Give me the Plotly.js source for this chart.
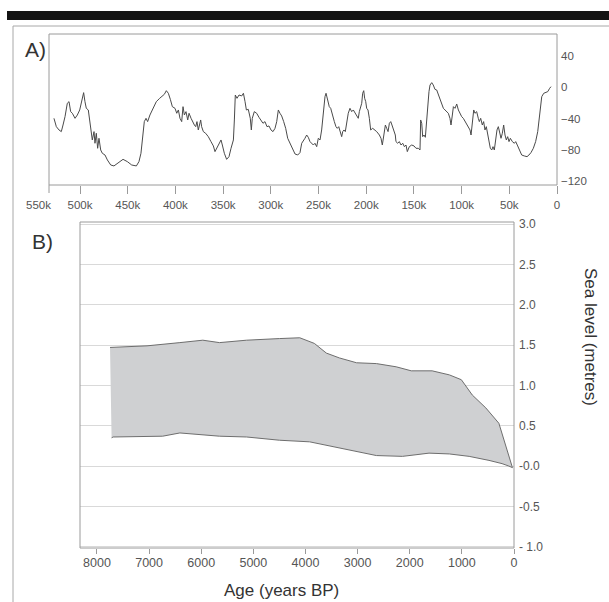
<!DOCTYPE html>
<html>
<head>
<meta charset="utf-8">
<script src="https://cdn.plot.ly/plotly-3.0.1.min.js"></script>
<style>
html,body{margin:0;padding:0;background:#fff;}
#chart{width:609px;height:602px;}
</style>
</head>
<body>
<div id="chart"></div>
<script>
// ---------- Panel A: sea level (m) vs age (thousand years) ----------
const ageKaA = [527.3,524.8,522.0,519.6,517.8,515.7,513.3,511.5,509.8,508.0,505.2,502.8,500.3,498.3,496.2,494.8,493.4,491.3,489.9,488.1,487.1,485.3,484.3,482.9,481.5,480.1,478.3,476.6,473.8,471.3,467.8,464.4,459.1,454.9,450.4,445.8,440.9,438.2,436.1,434.0,432.6,430.8,429.1,426.7,423.5,420.0,416.5,413.7,411.6,409.5,407.4,405.3,403.2,
400.4,398.6,396.9,395.2,393.4,392.0,390.6,388.9,387.1,385.7,383.6,382.2,380.1,378.7,377.4,376.0,374.9,373.5,372.5,370.7,368.3,365.5,362.7,360.2,358.5,356.7,354.3,352.2,350.8,348.7,346.3,343.8,341.7,339.2,338.2,337.2,335.4,333.3,330.5,328.7,327.0,325.6,323.6,321.5,320.4,319.4,317.3,314.8,312.4,310.3,308.2,306.1,304.0,301.9,299.8,297.7,295.6,293.8,292.1,290.4,288.6,286.5,284.4,282.3,279.9,277.4,274.6,271.8,269.4,
267.6,265.9,264.2,262.4,260.7,258.9,257.2,255.4,253.7,251.9,250.2,248.4,246.7,244.9,243.2,242.1,240.8,238.7,237.2,235.5,233.4,231.7,230.3,228.8,227.5,225.7,224.6,223.3,221.9,220.4,218.8,217.0,215.2,213.5,211.7,210.0,208.3,207.2,205.8,204.7,203.7,202.6,201.6,200.5,199.5,198.1,196.7,195.3,193.2,191.1,189.0,186.2,184.5,183.1,181.3,179.9,178.5,177.1,175.7,174.3,173.0,170.9,169.5,168.8,167.0,165.3,163.5,161.7,160.0,158.3,156.9,154.8,152.3,149.9,147.8,145.4,143.6,142.9,141.8,140.8,139.4,138.0,136.6,135.2,134.2,
133.1,131.3,129.7,127.9,126.1,124.4,122.6,120.9,119.1,117.4,115.6,113.9,112.2,111.1,109.7,108.6,106.9,105.1,103.4,101.7,99.9,98.2,96.4,94.7,92.9,91.2,90.1,88.7,87.3,86.0,84.2,82.5,81.4,80.0,78.3,76.9,75.5,74.1,72.7,71.3,69.9,68.4,67.1,65.7,64.3,62.9,61.5,60.1,58.7,57.3,55.9,54.5,53.1,51.7,50.3,48.9,46.8,44.7,43.3,41.2,39.1,37.0,34.3,31.4,29.4,27.3,24.8,22.4,20.2,18.9,17.5,16.0,13.9,11.8,9.7,7.7,6.3];
const seaLevelA = [-39.8,-50.4,-54.6,-56.7,-48.3,-37.7,-20.7,-18.6,-31.3,-33.4,-39.8,-35.6,-29.2,-18.6,-7.2,-18.6,-27.1,-29.2,-41.9,-54.6,-67.3,-56.7,-71.5,-58.8,-77.9,-65.2,-80.0,-84.2,-86.4,-92.7,-99.1,-100.3,-95.7,-91.9,-94.8,-99.1,-100.3,-94.8,-84.2,-63.1,-44.0,-39.8,-44.0,-35.6,-27.1,-18.6,-14.4,-11.4,-9.3,-4.7,-8.0,-15.7,-25.0,
-27.1,-33.4,-29.2,-39.8,-44.0,-25.0,-35.6,-31.3,-41.9,-33.4,-39.8,-44.0,-48.3,-50.4,-44.0,-54.6,-48.3,-41.9,-50.4,-56.7,-58.8,-63.1,-69.4,-74.9,-82.1,-77.9,-71.5,-67.3,-73.7,-84.2,-91.9,-88.5,-77.9,-67.3,-41.9,-10.2,-14.4,-10.2,-11.4,-8.0,-18.6,-29.2,-28.4,-39.8,-54.6,-39.8,-31.3,-33.4,-38.5,-41.9,-46.1,-44.0,-50.4,-49.5,-54.6,-56.7,-52.5,-44.0,-29.2,-33.4,-36.8,-44.0,-52.5,-65.2,-71.5,-79.1,-85.1,-86.4,-83.4,
-71.5,-67.3,-65.2,-61.0,-63.9,-69.4,-71.5,-73.7,-71.5,-75.8,-65.2,-67.3,-54.6,-29.2,-12.3,-8.0,-14.4,-25.0,-27.1,-35.6,-44.0,-50.4,-52.5,-50.4,-56.7,-63.1,-56.7,-54.6,-56.7,-46.1,-33.4,-27.1,-31.3,-29.2,-33.4,-35.6,-39.8,-31.3,-25.0,-20.7,-8.0,-4.7,-14.4,-18.6,-27.1,-29.2,-39.8,-54.6,-52.5,-54.6,-56.7,-61.0,-65.2,-73.7,-56.7,-48.3,-52.5,-56.7,-46.1,-44.0,-48.3,-54.6,-61.0,-69.4,-71.5,-69.4,-73.7,-71.5,-75.8,-73.7,-82.1,-75.8,-73.7,-74.9,-77.9,-77.9,-80.0,-41.9,-46.1,-63.1,-61.0,-63.9,-41.9,-14.4,-5.9,
2.5,5.5,2.5,-3.0,-3.8,-10.2,-14.4,-20.7,-27.1,-29.2,-31.3,-33.4,-39.8,-48.3,-35.6,-25.0,-27.1,-21.6,-29.2,-33.4,-37.7,-39.8,-44.0,-46.1,-50.4,-54.6,-61.0,-48.3,-29.2,-33.4,-31.3,-39.8,-44.0,-39.8,-48.3,-44.0,-54.6,-50.4,-61.0,-71.5,-77.9,-80.0,-75.8,-80.0,-65.2,-54.6,-50.4,-56.7,-65.2,-58.8,-48.3,-61.0,-67.3,-63.1,-69.4,-65.2,-69.4,-71.5,-69.4,-74.9,-80.0,-86.4,-87.6,-88.5,-86.4,-83.4,-77.9,-69.4,-56.7,-41.9,-25.0,-12.3,-8.0,-6.8,-5.9,-1.7,0.4];
const ageTicksA = [0,50,100,150,200,250,300,350,400,450,500];
const ageTickTextA = ['0','50k','100k','150k','200k','250k','300k','350k','400k','450k','500k'];
const edgeLabelA = '550k';   // label at the far left end of the axis (550 ka), drawn without a tick
const levelTicksA = [-120,-80,-40,0,40];

// ---------- Panel B: Holocene sea-level envelope ----------
const upperAge = [7750,7040,6410,5970,5650,5130,4500,4110,3830,3600,3350,3020,2640,2260,1970,1570,1240,1010,800,540,290,30];
const upperLevel = [1.47,1.49,1.53,1.56,1.53,1.56,1.58,1.59,1.52,1.40,1.34,1.28,1.27,1.23,1.18,1.18,1.13,1.07,0.88,0.72,0.53,-0.02];
const lowerAge = [30,100,230,480,860,1240,1630,1880,2140,2640,3020,3480,3920,4500,5130,5650,6410,6740,7690,7720];
const lowerLevel = [-0.02,0.0,0.03,0.07,0.12,0.15,0.16,0.14,0.12,0.13,0.18,0.25,0.30,0.32,0.36,0.37,0.41,0.37,0.36,0.35];
const ageTicksB = [0,1000,2000,3000,4000,5000,6000,7000,8000];
const levelTicksB = [-1,-0.5,0,0.5,1,1.5,2,2.5,3];
const levelTickTextB = ['- 1.0','-0.5','-0.0','0.5','1.0','1.5','2.0','2.5','3.0'];

// ---------- helpers (pixel -> paper) ----------
const W = 609, H = 602;
const px = x => x / W;
const py = y => 1 - y / H;
const FONT = 'Liberation Sans, Arial, Helvetica, sans-serif';

const envX = upperAge.concat(lowerAge);
const envY = upperLevel.concat(lowerLevel);

const traces = [
  {
    x: envX, y: envY, xaxis: 'x2', yaxis: 'y2',
    type: 'scatter', mode: 'lines', fill: 'toself',
    fillcolor: '#cfd0d2', line: {color: '#6e6e6e', width: 1},
    hoverinfo: 'skip', showlegend: false
  },
  {
    x: ageKaA, y: seaLevelA, xaxis: 'x', yaxis: 'y',
    type: 'scatter', mode: 'lines',
    line: {color: '#4a4a4a', width: 1},
    hoverinfo: 'skip', showlegend: false
  }
];

const tickFontA = {family: FONT, size: 11.5, color: '#555'};
const tickFontB = {family: FONT, size: 12.5, color: '#555'};

// x range of panel A: 550 ka at pixel 32.3, 0 at pixel 557
const xA0 = 32.3, xA1 = 557, rangeA = [550, 0];

const layout = {
  width: W, height: H, autosize: false,
  margin: {l: 0, r: 0, t: 0, b: 0, pad: 0},
  paper_bgcolor: '#fff', plot_bgcolor: 'rgba(0,0,0,0)',
  showlegend: false,
  font: {family: FONT, color: '#444'},
  xaxis: {
    domain: [px(xA0), px(xA1)], range: rangeA, anchor: 'y',
    tickmode: 'array', tickvals: ageTicksA, ticktext: ageTickTextA,
    ticks: 'outside', ticklen: 8, tickwidth: 1, tickcolor: '#9a9a9a',
    showline: false, showgrid: false, zeroline: false,
    tickfont: tickFontA, ticklabelstandoff: 1
  },
  yaxis: {
    domain: [py(185), py(34)], range: [-124.5, 67.3], anchor: 'x', side: 'right',
    tickmode: 'array', tickvals: levelTicksA,
    ticks: '', showline: false, showgrid: false, zeroline: false,
    tickfont: tickFontA, ticklabelstandoff: 3
  },
  xaxis2: {
    domain: [px(80), px(514)], range: [8326, 0], anchor: 'y2',
    tickmode: 'array', tickvals: ageTicksB,
    ticks: 'outside', ticklen: 5, tickwidth: 1, tickcolor: '#9a9a9a',
    showline: false, showgrid: false, zeroline: false,
    tickfont: tickFontB, ticklabelstandoff: -2
  },
  yaxis2: {
    domain: [py(548), py(222)], range: [-1.016, 3.025], anchor: 'x2', side: 'right',
    tickmode: 'array', tickvals: levelTicksB, ticktext: levelTickTextB,
    ticks: '', showline: false, showgrid: true, gridcolor: '#d9d9d9', gridwidth: 1,
    zeroline: false, tickfont: {family: FONT, size: 12, color: '#555'}, ticklabelstandoff: 4
  },
  shapes: [
    // black header bar
    {type: 'rect', xref: 'paper', yref: 'paper', x0: px(7), x1: 1, y0: py(20), y1: py(11),
     fillcolor: '#141414', line: {width: 0}},
    // outer gray frame lines
    {type: 'line', xref: 'paper', yref: 'paper', x0: px(13), x1: 1, y0: py(26), y1: py(26),
     line: {color: '#a8a8a8', width: 1}},
    {type: 'line', xref: 'paper', yref: 'paper', x0: px(13), x1: px(13), y0: py(26), y1: 0,
     line: {color: '#a8a8a8', width: 1}},
    // panel A box
    {type: 'rect', xref: 'paper', yref: 'paper', x0: px(49), x1: px(557), y0: py(185), y1: py(34),
     line: {color: '#9a9a9a', width: 1}},
    {type: 'line', xref: 'paper', yref: 'paper', x0: px(49), x1: px(49), y0: py(185), y1: py(193),
     line: {color: '#9a9a9a', width: 1}},
    // panel B box
    {type: 'rect', xref: 'paper', yref: 'paper', x0: px(80), x1: px(514), y0: py(548), y1: py(222),
     line: {color: '#9a9a9a', width: 1}}
  ],
  annotations: [
    {text: edgeLabelA, xref: 'paper', yref: 'paper',
     x: px(xA0 + 6), y: py(204.5), showarrow: false,
     xanchor: 'center', yanchor: 'middle', font: tickFontA},
    {text: 'A)', xref: 'paper', yref: 'paper', x: px(35), y: py(49), showarrow: false,
     xanchor: 'center', yanchor: 'middle', font: {family: FONT, size: 21, color: '#333'}},
    {text: 'B)', xref: 'paper', yref: 'paper', x: px(42), y: py(241), showarrow: false,
     xanchor: 'center', yanchor: 'middle', font: {family: FONT, size: 21, color: '#333'}},
    {text: 'Sea level (metres)', xref: 'paper', yref: 'paper', x: px(590), y: py(337), showarrow: false,
     textangle: 90, xanchor: 'center', yanchor: 'middle', font: {family: FONT, size: 17, color: '#333'}},
    {text: 'Age (years BP)', xref: 'paper', yref: 'paper', x: px(281), y: py(601), showarrow: false,
     xanchor: 'center', yanchor: 'bottom', borderpad: 0, font: {family: FONT, size: 17, color: '#333'}}
  ]
};

Plotly.newPlot('chart', traces, layout, {displayModeBar: false, staticPlot: true});
</script>
</body>
</html>
